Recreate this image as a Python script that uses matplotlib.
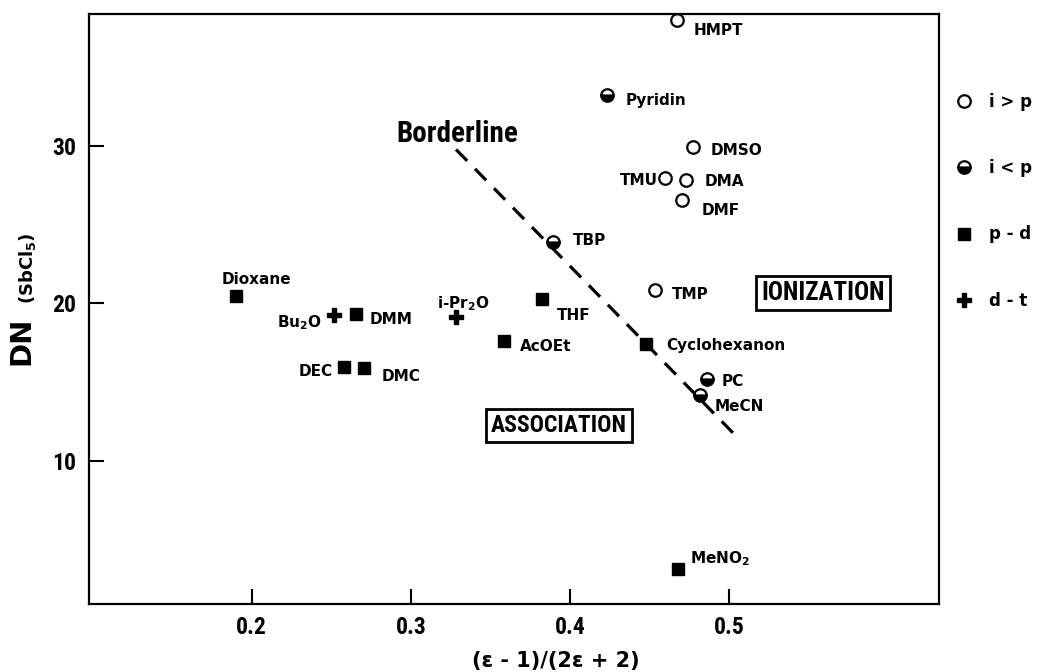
import matplotlib
matplotlib.use("Agg")
import matplotlib.pyplot as plt
from matplotlib import font_manager

names = {f.name for f in font_manager.fontManager.ttflist}
narrow = 'Liberation Sans'
for cand in ['Roboto Condensed', 'Liberation Sans Narrow', 'Archivo Narrow', 'PT Sans Narrow']:
    if cand in names:
        narrow = cand
        break

plt.rcParams['mathtext.fontset'] = 'custom'
plt.rcParams['mathtext.rm'] = 'DejaVu Sans:bold'
plt.rcParams['mathtext.it'] = 'DejaVu Sans:bold'
plt.rcParams['mathtext.bf'] = 'DejaVu Sans:bold'

# i > p (open circles)
open_names = ['HMPT', 'DMSO', 'TMU', 'DMA', 'DMF', 'TMP']
open_x = [0.4675, 0.4774, 0.4598, 0.4727, 0.4706, 0.4537]
open_y = [37.96, 29.91, 27.98, 27.85, 26.53, 20.87]

# i < p (half filled circles)
half_names = ['Pyridin', 'TBP', 'PC', 'MeCN']
half_x = [0.4233, 0.3896, 0.4862, 0.4820]
half_y = [33.19, 23.90, 15.22, 14.17]

# p - d (squares)
sq_names = ['Dioxane', 'DMM', 'THF', 'AcOEt', 'DEC', 'DMC', 'Cyclohexanon', 'MeNO$_2$']
sq_x = [0.190, 0.2654, 0.3827, 0.3588, 0.2580, 0.2706, 0.4481, 0.468]
sq_y = [20.48, 19.30, 20.29, 17.63, 15.98, 15.88, 17.40, 3.13]

# d - t (plus)
plus_names = ['Bu$_2$O', 'i-Pr$_2$O']
plus_x = [0.252, 0.3284]
plus_y = [19.24, 19.11]

border_x = [0.3284, 0.5053]
border_y = [29.76, 11.50]

# label offsets in pixels (dx, dy up), alignment
offsets = {
    'HMPT': (16, -10, 'left', 'center'),
    'DMSO': (18, -3.5, 'left', 'center'),
    'TMU': (-7, -2.6, 'right', 'center'),
    'DMA': (19.5, -1.5, 'left', 'center'),
    'DMF': (19, -10, 'left', 'center'),
    'TMP': (16.7, -5, 'left', 'center'),
    'Pyridin': (19, -5, 'left', 'center'),
    'TBP': (19, 1, 'left', 'center'),
    'PC': (15, -3, 'left', 'center'),
    'MeCN': (14, -10.7, 'left', 'center'),
    'Dioxane': (21, 16.4, 'center', 'center'),
    'DMM': (14.3, -5, 'left', 'center'),
    'THF': (14.4, -17, 'left', 'center'),
    'AcOEt': (15.7, -6, 'left', 'center'),
    'DEC': (-11, -5, 'right', 'center'),
    'DMC': (17.7, -7.7, 'left', 'center'),
    'Cyclohexanon': (20, -1, 'left', 'center'),
    'MeNO$_2$': (12, 6, 'left', 'baseline'),
    'Bu$_2$O': (-12.6, -11.7, 'right', 'baseline'),
    'i-Pr$_2$O': (-19.3, 9.3, 'left', 'baseline'),
}

fig = plt.figure(figsize=(10.56, 6.72), dpi=100)
ax = fig.add_axes([0.0843, 0.1012, 0.8049, 0.878])

ms = 9
h1, = ax.plot(open_x, open_y, 'o', ms=ms, mfc='white', mec='black', mew=1.6, ls='none', label='i > p')
h2, = ax.plot(half_x, half_y, 'o', ms=ms, fillstyle='bottom', mfc='black', mfcalt='white',
              mec='black', mew=1.6, ls='none', label='i < p')
h3, = ax.plot(sq_x, sq_y, 's', ms=ms, color='black', ls='none', label='p - d')
h4, = ax.plot(plus_x, plus_y, 'P', ms=ms + 1, color='black', ls='none', label='d - t')

ax.plot(border_x, border_y, color='black', lw=2.3, dashes=(5, 3.5))

for nm, xs, ys in [(open_names, open_x, open_y), (half_names, half_x, half_y),
                   (sq_names, sq_x, sq_y), (plus_names, plus_x, plus_y)]:
    for n, x, y in zip(nm, xs, ys):
        dx, dy, ha, va = offsets[n]
        ax.annotate(n, (x, y), xytext=(dx, dy), textcoords='offset pixels',
                    ha=ha, va=va, fontsize=11, fontweight='bold', family='DejaVu Sans')

ax.text(0.329, 30.72, 'Borderline', ha='center', va='center', fontsize=21,
        fontweight='bold', family=narrow)
box = dict(boxstyle='square,pad=0.2', fc='white', ec='black', lw=2)
ax.text(0.3931, 12.26, 'ASSOCIATION', ha='center', va='center', fontsize=17,
        fontweight='bold', family=narrow, bbox=box)
ax.text(0.5590, 20.69, 'IONIZATION', ha='center', va='center', fontsize=18,
        fontweight='bold', family=narrow, bbox=box)

ax.set_xlim(0.0977, 0.632)
ax.set_ylim(0.94, 38.35)
ax.set_xticks([0.2, 0.3, 0.4, 0.5])
ax.set_xticklabels(['0.2', '0.3', '0.4', '0.5'])
ax.set_yticks([10, 20, 30])
ax.set_yticklabels(['10', '20', '30'])
ax.tick_params(direction='in', length=11, width=1.5, pad=9, top=False, right=False)
for lab in ax.get_xticklabels() + ax.get_yticklabels():
    lab.set_family(narrow)
    lab.set_fontweight('bold')
    lab.set_fontsize(17)
for s in ax.spines.values():
    s.set_linewidth(1.6)

fig.text(556 / 1056, 1 - 661 / 672, '(ε - 1)/(2ε + 2)', ha='center', va='center',
         fontsize=15, fontweight='bold')
fig.text(21 / 1056, 1 - 341 / 672, 'DN', rotation=90, ha='center', va='center',
         fontsize=21, fontweight='bold')
fig.text(28 / 1056, 1 - 268 / 672, '(SbCl$_5$)', rotation=90, ha='center', va='center',
         fontsize=13, fontweight='bold')

ax.legend(handles=[h1, h2, h3, h4], loc='upper left', bbox_to_anchor=(0.8972, 0.8743),
          bbox_transform=fig.transFigure, frameon=False, numpoints=1, borderpad=0,
          handlelength=1, handletextpad=1.0, labelspacing=2.9,
          prop={'weight': 'bold', 'size': 12})

fig.savefig('out.png', dpi=100)
